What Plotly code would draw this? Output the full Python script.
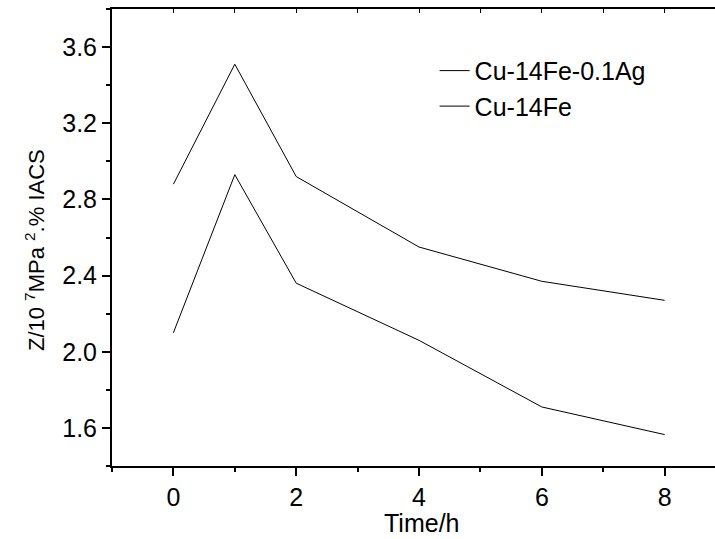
import plotly.graph_objects as go

time_h = [0, 1, 2, 4, 6, 8]
z_cu14fe_ag = [2.88, 3.51, 2.92, 2.55, 2.37, 2.27]
z_cu14fe = [2.10, 2.93, 2.36, 2.06, 1.71, 1.565]
series_names = ["Cu-14Fe-0.1Ag", "Cu-14Fe"]
x_title = "Time/h"
y_title = "Z/10 <sup>7</sup>MPa <sup>2</sup>.% IACS"

FONT = "Liberation Sans, Arial, sans-serif"
FS = 25

fig = go.Figure()
for name, vals in zip(series_names, [z_cu14fe_ag, z_cu14fe]):
    fig.add_trace(go.Scatter(x=time_h, y=vals, mode="lines", name=name,
                             line=dict(color="black", width=1)))

fig.update_layout(
    width=715, height=539,
    margin=dict(l=112, r=0, t=9, b=73, autoexpand=False),
    plot_bgcolor="white", paper_bgcolor="white",
    font=dict(family=FONT, size=FS, color="black"),
    showlegend=True,
    legend=dict(x=0.535, y=0.915, xanchor="left", yanchor="top",
                bgcolor="rgba(0,0,0,0)", font=dict(size=FS),
                tracegroupgap=0),
    xaxis=dict(range=[-1, 8.82], dtick=2, tick0=0, showgrid=False, zeroline=False,
               showline=True, linecolor="black", linewidth=2,
               ticks="outside", ticklen=8, tickwidth=2, tickcolor="black",
               minor=dict(dtick=1, ticks="outside", ticklen=4, tickwidth=2, tickcolor="black")),
    xaxis2=dict(range=[-1, 8.82], overlaying="x", side="top", dtick=1, tick0=0,
                showgrid=False, zeroline=False, showline=True, linecolor="black", linewidth=2,
                ticks="inside", ticklen=4, tickwidth=1, tickcolor="black",
                showticklabels=False),
    yaxis=dict(range=[1.4, 3.8], dtick=0.4, tick0=1.6, tickformat=".1f",
               showgrid=False, zeroline=False,
               showline=True, linecolor="black", linewidth=2,
               ticks="outside", ticklen=8, tickwidth=2, tickcolor="black",
               minor=dict(dtick=0.2, ticks="outside", ticklen=4, tickwidth=2, tickcolor="black")),
    annotations=[
        dict(text=x_title, xref="paper", yref="paper", x=0.5135, y=0,
             xanchor="center", yanchor="middle", yshift=-57, showarrow=False,
             font=dict(size=FS)),
        dict(text=y_title, xref="paper", yref="paper", x=0, y=0.4726,
             xanchor="center", yanchor="middle", xshift=-77, textangle=-90,
             showarrow=False, font=dict(size=22)),
    ],
)
fig.add_trace(go.Scatter(x=[None], y=[None], xaxis="x2", showlegend=False, hoverinfo="skip"))

fig.write_html("out.html")
